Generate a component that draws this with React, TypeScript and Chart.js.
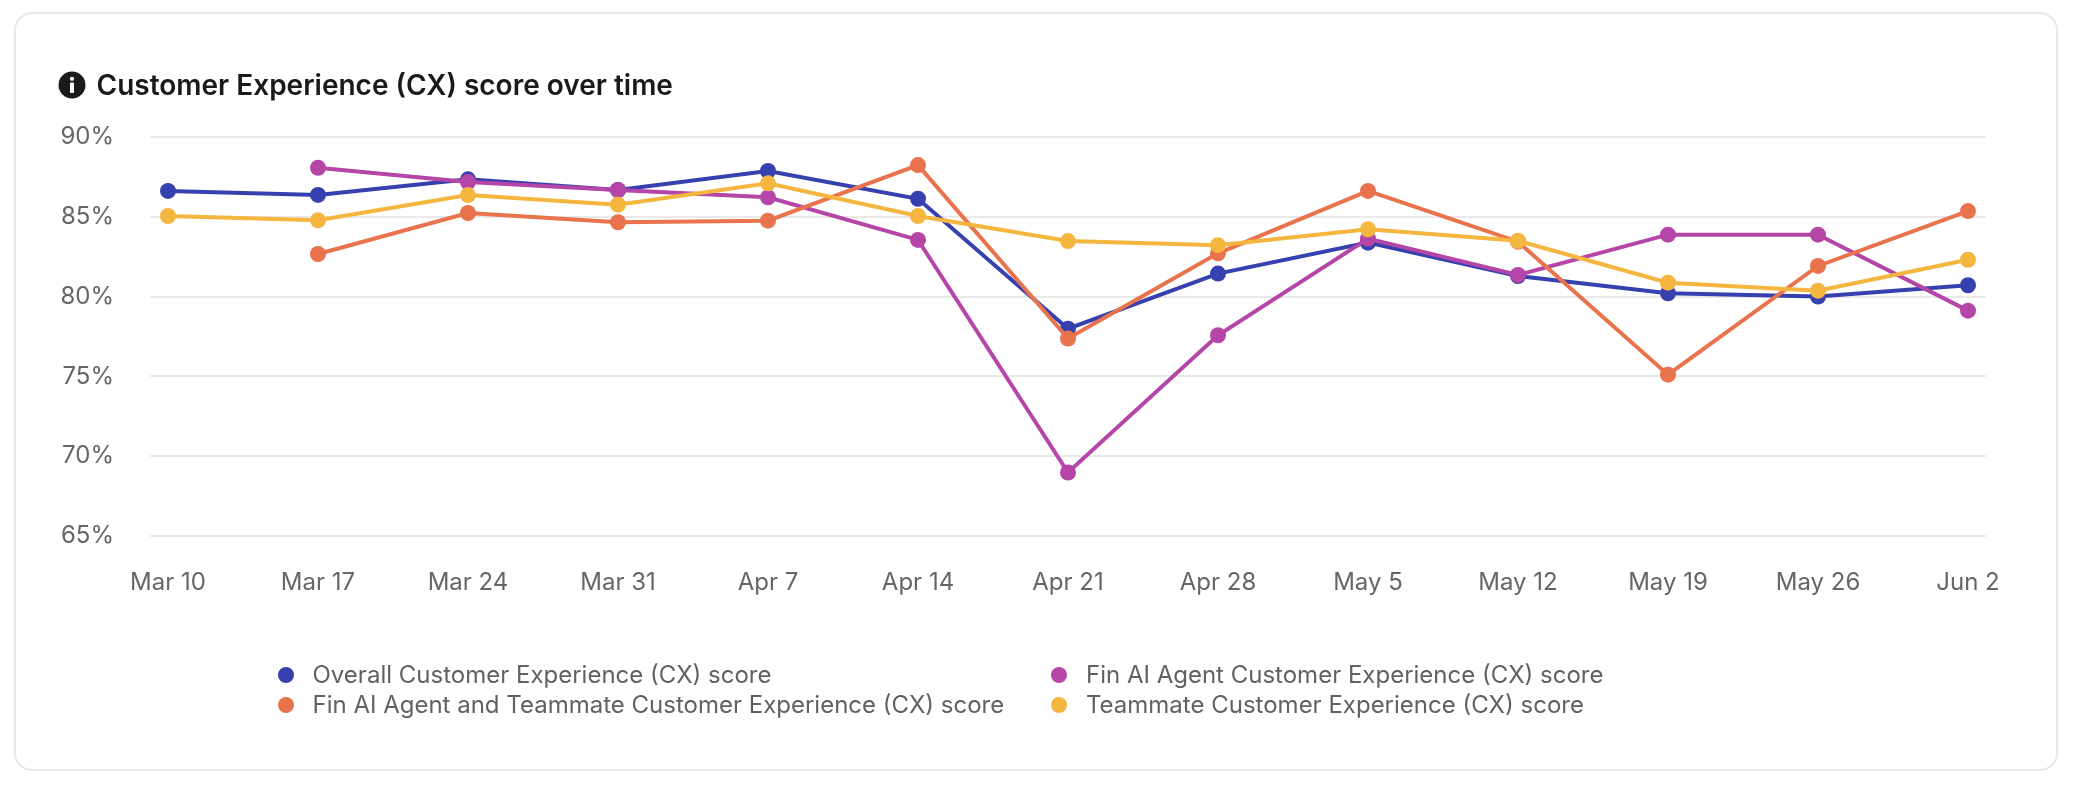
import React, { useEffect, useRef } from "react";
import { Chart, registerables } from "chart.js";

Chart.register(...registerables);

const categories = ["Mar 10", "Mar 17", "Mar 24", "Mar 31", "Apr 7", "Apr 14", "Apr 21", "Apr 28", "May 5", "May 12", "May 19", "May 26", "Jun 2"];
const overall = [86.62, 86.37, 87.35, 86.68, 87.87, 86.13, 77.99, 81.44, 83.38, 81.29, 80.21, 80.0, 80.71];
const finAgent = [null, 88.07, 87.18, 86.68, 86.22, 83.55, 68.98, 77.58, 83.63, 81.36, 83.88, 83.88, 79.12];
const finAndTeammate = [null, 82.67, 85.24, 84.66, 84.76, 88.24, 77.37, 82.71, 86.62, 83.44, 75.11, 81.92, 85.36];
const teammate = [85.05, 84.78, 86.36, 85.76, 87.1, 85.05, 83.48, 83.22, 84.22, 83.5, 80.87, 80.37, 82.31];
const seriesNames = [
  "Overall Customer Experience (CX) score",
  "Fin AI Agent Customer Experience (CX) score",
  "Fin AI Agent and Teammate Customer Experience (CX) score",
  "Teammate Customer Experience (CX) score",
];
const seriesColors = ["#3640AE", "#B545A6", "#E8734C", "#F4B63F"];
const seriesValues = [overall, finAgent, finAndTeammate, teammate];
const yTicks = [65, 70, 75, 80, 85, 90];
const titleText = "Customer Experience (CX) score over time";

const FONT = "Inter, 'Noto Sans', sans-serif";

export default function App() {
  const ref = useRef<HTMLCanvasElement>(null);
  useEffect(() => {
    document.body.style.margin = "0";
    const chart = new Chart(ref.current!, {
      type: "line",
      data: {
        datasets: seriesValues.map((vals, i) => ({
          label: seriesNames[i],
          data: vals.map((y, x) => ({ x, y })),
          borderColor: seriesColors[i],
          backgroundColor: seriesColors[i],
          borderWidth: 4,
          pointRadius: 8,
          pointBorderWidth: 0,
          pointBackgroundColor: seriesColors[i],
          tension: 0,
          spanGaps: false,
          order: seriesValues.length - i,
          clip: false,
        })) as any,
      },
      options: {
        animation: false,
        responsive: false,
        devicePixelRatio: 1,
        layout: { padding: { left: 0, right: 90, top: 137, bottom: 0 } },
        plugins: { legend: { display: false }, tooltip: { enabled: false } },
        scales: {
          x: {
            type: "linear",
            min: -0.12,
            max: 12.12,
            grid: { display: false },
            border: { display: false },
            afterBuildTicks: (s: any) => {
              s.ticks = categories.map((_, i) => ({ value: i }));
            },
            afterFit: (s: any) => {
              s.height = 256;
            },
            ticks: {
              autoSkip: false,
              maxRotation: 0,
              padding: 24,
              color: "#666666",
              font: { family: FONT, size: 24 },
              callback: (v: any) => categories[v],
            },
          },
          y: {
            min: yTicks[0],
            max: yTicks[yTicks.length - 1],
            grid: { color: "#E9E9E9", lineWidth: 2, drawTicks: false },
            border: { display: false },
            afterFit: (s: any) => {
              s.width = 150;
            },
            ticks: {
              stepSize: 5,
              padding: 36,
              color: "#666666",
              font: { family: FONT, size: 24 },
              callback: (v: any) => `${v}%`,
            },
          },
        },
      },
    });
    return () => chart.destroy();
  }, []);

  const legendPos = [
    { dot: 286, text: 312.5, y: 675 },
    { dot: 1059, text: 1086, y: 675 },
    { dot: 286, text: 312.5, y: 705 },
    { dot: 1059, text: 1086, y: 705 },
  ];

  return (
    <div style={{ position: "absolute", left: 0, top: 0, width: 2076, height: 792, background: "#fff", overflow: "hidden", fontFamily: FONT }}>
      <div style={{ position: "absolute", left: 14, top: 12, width: 2044, height: 759, boxSizing: "border-box", border: "2px solid #E9E9E9", borderRadius: 18 }} />
      <canvas ref={ref} width={2076} height={792} style={{ position: "absolute", left: 0, top: 0, display: "block" }} />
      <svg width={28} height={28} viewBox="0 0 28 28" style={{ position: "absolute", left: 58, top: 71 }}>
        <circle cx={14} cy={14} r={13.5} fill="#1a1a1a" />
        <circle cx={14} cy={7.8} r={2.1} fill="#fff" />
        <rect x={12} y={11.5} width={4} height={10.5} rx={1} fill="#fff" />
      </svg>
      <div style={{ position: "absolute", left: 96.5, top: 65, height: 40, lineHeight: "40px", fontSize: 28, fontWeight: 600, color: "#1a1a1a", whiteSpace: "nowrap" }}>{titleText}</div>
      {seriesNames.map((name, i) => (
        <React.Fragment key={name}>
          <div style={{ position: "absolute", left: legendPos[i].dot - 8, top: legendPos[i].y - 8, width: 16, height: 16, borderRadius: 8, background: seriesColors[i] }} />
          <div style={{ position: "absolute", left: legendPos[i].text, top: legendPos[i].y - 15, height: 30, lineHeight: "30px", fontSize: 24, color: "#616161", whiteSpace: "nowrap" }}>{name}</div>
        </React.Fragment>
      ))}
    </div>
  );
}
